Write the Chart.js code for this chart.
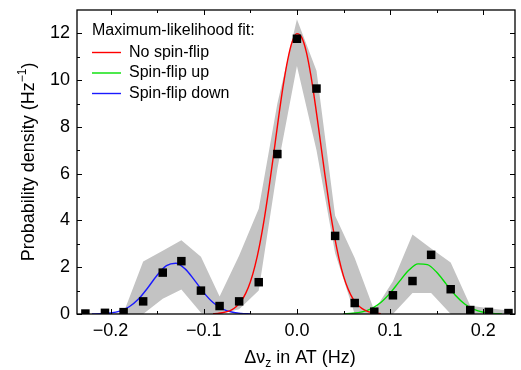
<!DOCTYPE html>
<html>
<head>
<meta charset="utf-8">
<script src="https://cdn.jsdelivr.net/npm/chart.js@4"></script>
<style>
  html,body{margin:0;padding:0;background:#fff}
  #wrap{position:relative;width:521px;height:370px}
</style>
</head>
<body>
<div id="wrap"><canvas id="c" width="521" height="370"></canvas></div>
<script>
/* measured histogram bins (Hz) and probability density (1/Hz) */
const BIN_X   = [-0.227,-0.206,-0.186,-0.165,-0.144,-0.124,-0.103,-0.083,-0.062,-0.041,-0.021,0,0.021,0.041,0.062,0.083,0.103,0.124,0.144,0.165,0.186,0.206,0.227];
const DENSITY = [0.02,0.05,0.08,0.54,1.77,2.26,1.0,0.34,0.54,1.36,6.84,11.77,9.64,3.34,0.47,0.1,0.8,1.41,2.53,1.06,0.17,0.09,0.04];
/* grey confidence band, upper / lower edge at each bin */
const BAND_HI = [0,0,0.05,2.25,2.7,3.15,2.45,0.75,2.5,4.5,9.0,12.6,10.4,4.2,2.4,0.15,1.4,3.4,2.8,2.2,0.35,0.25,0.15];
const BAND_LO = [0,0,0,0,0.65,1.05,0.05,0,0.2,1.0,6.2,10.6,7.0,2.6,0,0,0,0.9,0.9,0,0,0,0];

/* maximum-likelihood fit curves */
const RED_X = [-0.09,-0.085,-0.08,-0.075,-0.07,-0.065,-0.06,-0.055,-0.05,-0.045,-0.04,-0.035,-0.03,-0.025,-0.02,-0.015,-0.01,-0.005,0,0.005,0.01,0.015,0.02,0.025,0.03,0.035,0.04,0.045,0.05,0.055,0.06,0.065,0.07,0.075,0.08,0.085,0.09];
const RED_Y = [0.012,0.025,0.051,0.098,0.18,0.32,0.54,0.88,1.37,2.06,2.96,4.08,5.39,6.83,8.31,9.7,10.85,11.65,11.99,11.84,11.22,10.19,8.88,7.43,5.96,4.58,3.38,2.39,1.62,1.06,0.66,0.4,0.23,0.125,0.066,0.034,0.016];
const BLUE_X = [-0.22,-0.21,-0.2,-0.19,-0.18,-0.17,-0.16,-0.15,-0.14,-0.13,-0.12,-0.11,-0.1,-0.09,-0.08,-0.07,-0.06,-0.05];
const BLUE_Y = [0.003,0.013,0.043,0.126,0.309,0.641,1.122,1.657,2.065,2.173,1.929,1.447,0.915,0.489,0.22,0.084,0.027,0.007];
const GREEN_X = [0.05,0.06,0.07,0.08,0.09,0.1,0.11,0.12,0.13,0.14,0.15,0.16,0.17,0.18,0.19,0.2,0.21,0.22];
const GREEN_Y = [0.01,0.032,0.093,0.23,0.49,0.892,1.393,1.866,2.144,2.111,1.782,1.29,0.801,0.426,0.194,0.076,0.026,0.007];

const X_MAJOR = [-0.2,-0.1,0,0.1,0.2];
const X_LABELS = ['\u22120.2','\u22120.1','0.0','0.1','0.2'];
const X_MINOR = [-0.15,-0.05,0.05,0.15];
const Y_MAJOR = [0,2,4,6,8,10,12];
const Y_MINOR = [1,3,5,7,9,11];

const LEGEND = [
  {label:'No spin-flip',   color:'#ff0000'},
  {label:'Spin-flip up',   color:'#00e000'},
  {label:'Spin-flip down', color:'#1a1aff'}
];

const FONT = "'Liberation Sans', Arial, sans-serif";

function pts(xs, ys){ return xs.map((x,i)=>({x, y:ys[i]})); }

function curve(xs, ys, color){
  return {
    data:pts(xs,ys), showLine:true, borderColor:color, borderWidth:1.4,
    pointRadius:0, fill:false, tension:0.4, cubicInterpolationMode:'monotone', order:2
  };
}

/* ── frame, inward ticks, labels, legend ── */
const decor = {
  id:'decor',
  afterDraw(chart){
    const {ctx, chartArea:a, scales:{x, y}} = chart;
    ctx.save();
    ctx.strokeStyle = '#000';
    ctx.lineWidth = 1.3;
    ctx.strokeRect(a.left, a.top, a.right - a.left, a.bottom - a.top);

    ctx.lineWidth = 1;
    const tickX = (v, len) => {
      const px = Math.round(x.getPixelForValue(v)) + 0.5;
      ctx.beginPath();
      ctx.moveTo(px, a.bottom); ctx.lineTo(px, a.bottom - len);
      ctx.moveTo(px, a.top);    ctx.lineTo(px, a.top + len);
      ctx.stroke();
    };
    const tickY = (v, len) => {
      const py = Math.round(y.getPixelForValue(v)) + 0.5;
      ctx.beginPath();
      ctx.moveTo(a.left, py);  ctx.lineTo(a.left + len, py);
      ctx.moveTo(a.right, py); ctx.lineTo(a.right - len, py);
      ctx.stroke();
    };
    X_MAJOR.forEach(v => tickX(v, 5));
    X_MINOR.forEach(v => tickX(v, 3));
    Y_MAJOR.forEach(v => tickY(v, 5));
    Y_MINOR.forEach(v => tickY(v, 3));

    ctx.fillStyle = '#000';
    ctx.font = '18px ' + FONT;
    ctx.textAlign = 'center'; ctx.textBaseline = 'middle';
    X_MAJOR.forEach((v,i) => ctx.fillText(X_LABELS[i], x.getPixelForValue(v), 331));
    ctx.textAlign = 'right';
    Y_MAJOR.forEach(v => ctx.fillText(String(v), 70, y.getPixelForValue(v)));

    // x title: Δν_z in AT (Hz)
    ctx.textAlign = 'left'; ctx.textBaseline = 'alphabetic';
    const p1 = '\u0394\u03bd', p2 = 'z', p3 = ' in AT (Hz)';
    ctx.font = '18px ' + FONT; const w1 = ctx.measureText(p1).width;
    ctx.font = '12px ' + FONT; const w2 = ctx.measureText(p2).width;
    ctx.font = '18px ' + FONT; const w3 = ctx.measureText(p3).width;
    let sx = 300 - (w1 + w2 + w3) / 2, by = 363;
    ctx.fillText(p1, sx, by); sx += w1;
    ctx.font = '12px ' + FONT; ctx.fillText(p2, sx, by + 4); sx += w2;
    ctx.font = '18px ' + FONT; ctx.fillText(p3, sx, by);

    // y title: Probability density (Hz^-1)
    ctx.save();
    ctx.translate(34, (a.top + a.bottom) / 2);
    ctx.rotate(-Math.PI / 2);
    const q1 = 'Probability density (Hz', q2 = '\u22121', q3 = ')';
    ctx.font = '18px ' + FONT; const v1 = ctx.measureText(q1).width;
    ctx.font = '12px ' + FONT; const v2 = ctx.measureText(q2).width;
    ctx.font = '18px ' + FONT; const v3 = ctx.measureText(q3).width;
    let tx = -(v1 + v2 + v3) / 2;
    ctx.fillText(q1, tx, 0); tx += v1;
    ctx.font = '12px ' + FONT; ctx.fillText(q2, tx, -8); tx += v2;
    ctx.font = '18px ' + FONT; ctx.fillText(q3, tx, 0);
    ctx.restore();

    // legend
    ctx.font = '16px ' + FONT;
    ctx.textAlign = 'left'; ctx.textBaseline = 'middle';
    ctx.fillText('Maximum-likelihood fit:', 92, 31);
    LEGEND.forEach((it, i) => {
      const ly = 52.5 + i * 20.5;
      ctx.strokeStyle = it.color; ctx.lineWidth = 1.4;
      ctx.beginPath(); ctx.moveTo(92, ly); ctx.lineTo(121, ly); ctx.stroke();
      ctx.fillText(it.label, 129, ly);
    });
    ctx.restore();
  }
};

new Chart(document.getElementById('c'), {
  type:'scatter',
  data:{datasets:[
    {data:pts(BIN_X, DENSITY), pointStyle:'rect', pointRadius:6, pointHoverRadius:6,
     backgroundColor:'#000', borderColor:'#000', borderWidth:0, showLine:false, order:0},
    curve(RED_X, RED_Y, '#ff0000'),
    curve(GREEN_X, GREEN_Y, '#00e000'),
    curve(BLUE_X, BLUE_Y, '#1a1aff'),
    {data:pts(BIN_X, BAND_HI), showLine:true, borderWidth:0, borderColor:'rgba(0,0,0,0)',
     pointRadius:0, tension:0, fill:'+1', backgroundColor:'#c3c3c3', order:5},
    {data:pts(BIN_X, BAND_LO), showLine:true, borderWidth:0, borderColor:'rgba(0,0,0,0)',
     pointRadius:0, tension:0, fill:false, order:6}
  ]},
  options:{
    responsive:false, animation:false, events:[],
    layout:{padding:{left:77, right:1, top:10, bottom:56}},
    plugins:{legend:{display:false}, tooltip:{enabled:false}},
    scales:{
      x:{type:'linear', min:-0.236, max:0.234, display:false},
      y:{type:'linear', min:0, max:13, display:false}
    }
  },
  plugins:[decor]
});
</script>
</body>
</html>
